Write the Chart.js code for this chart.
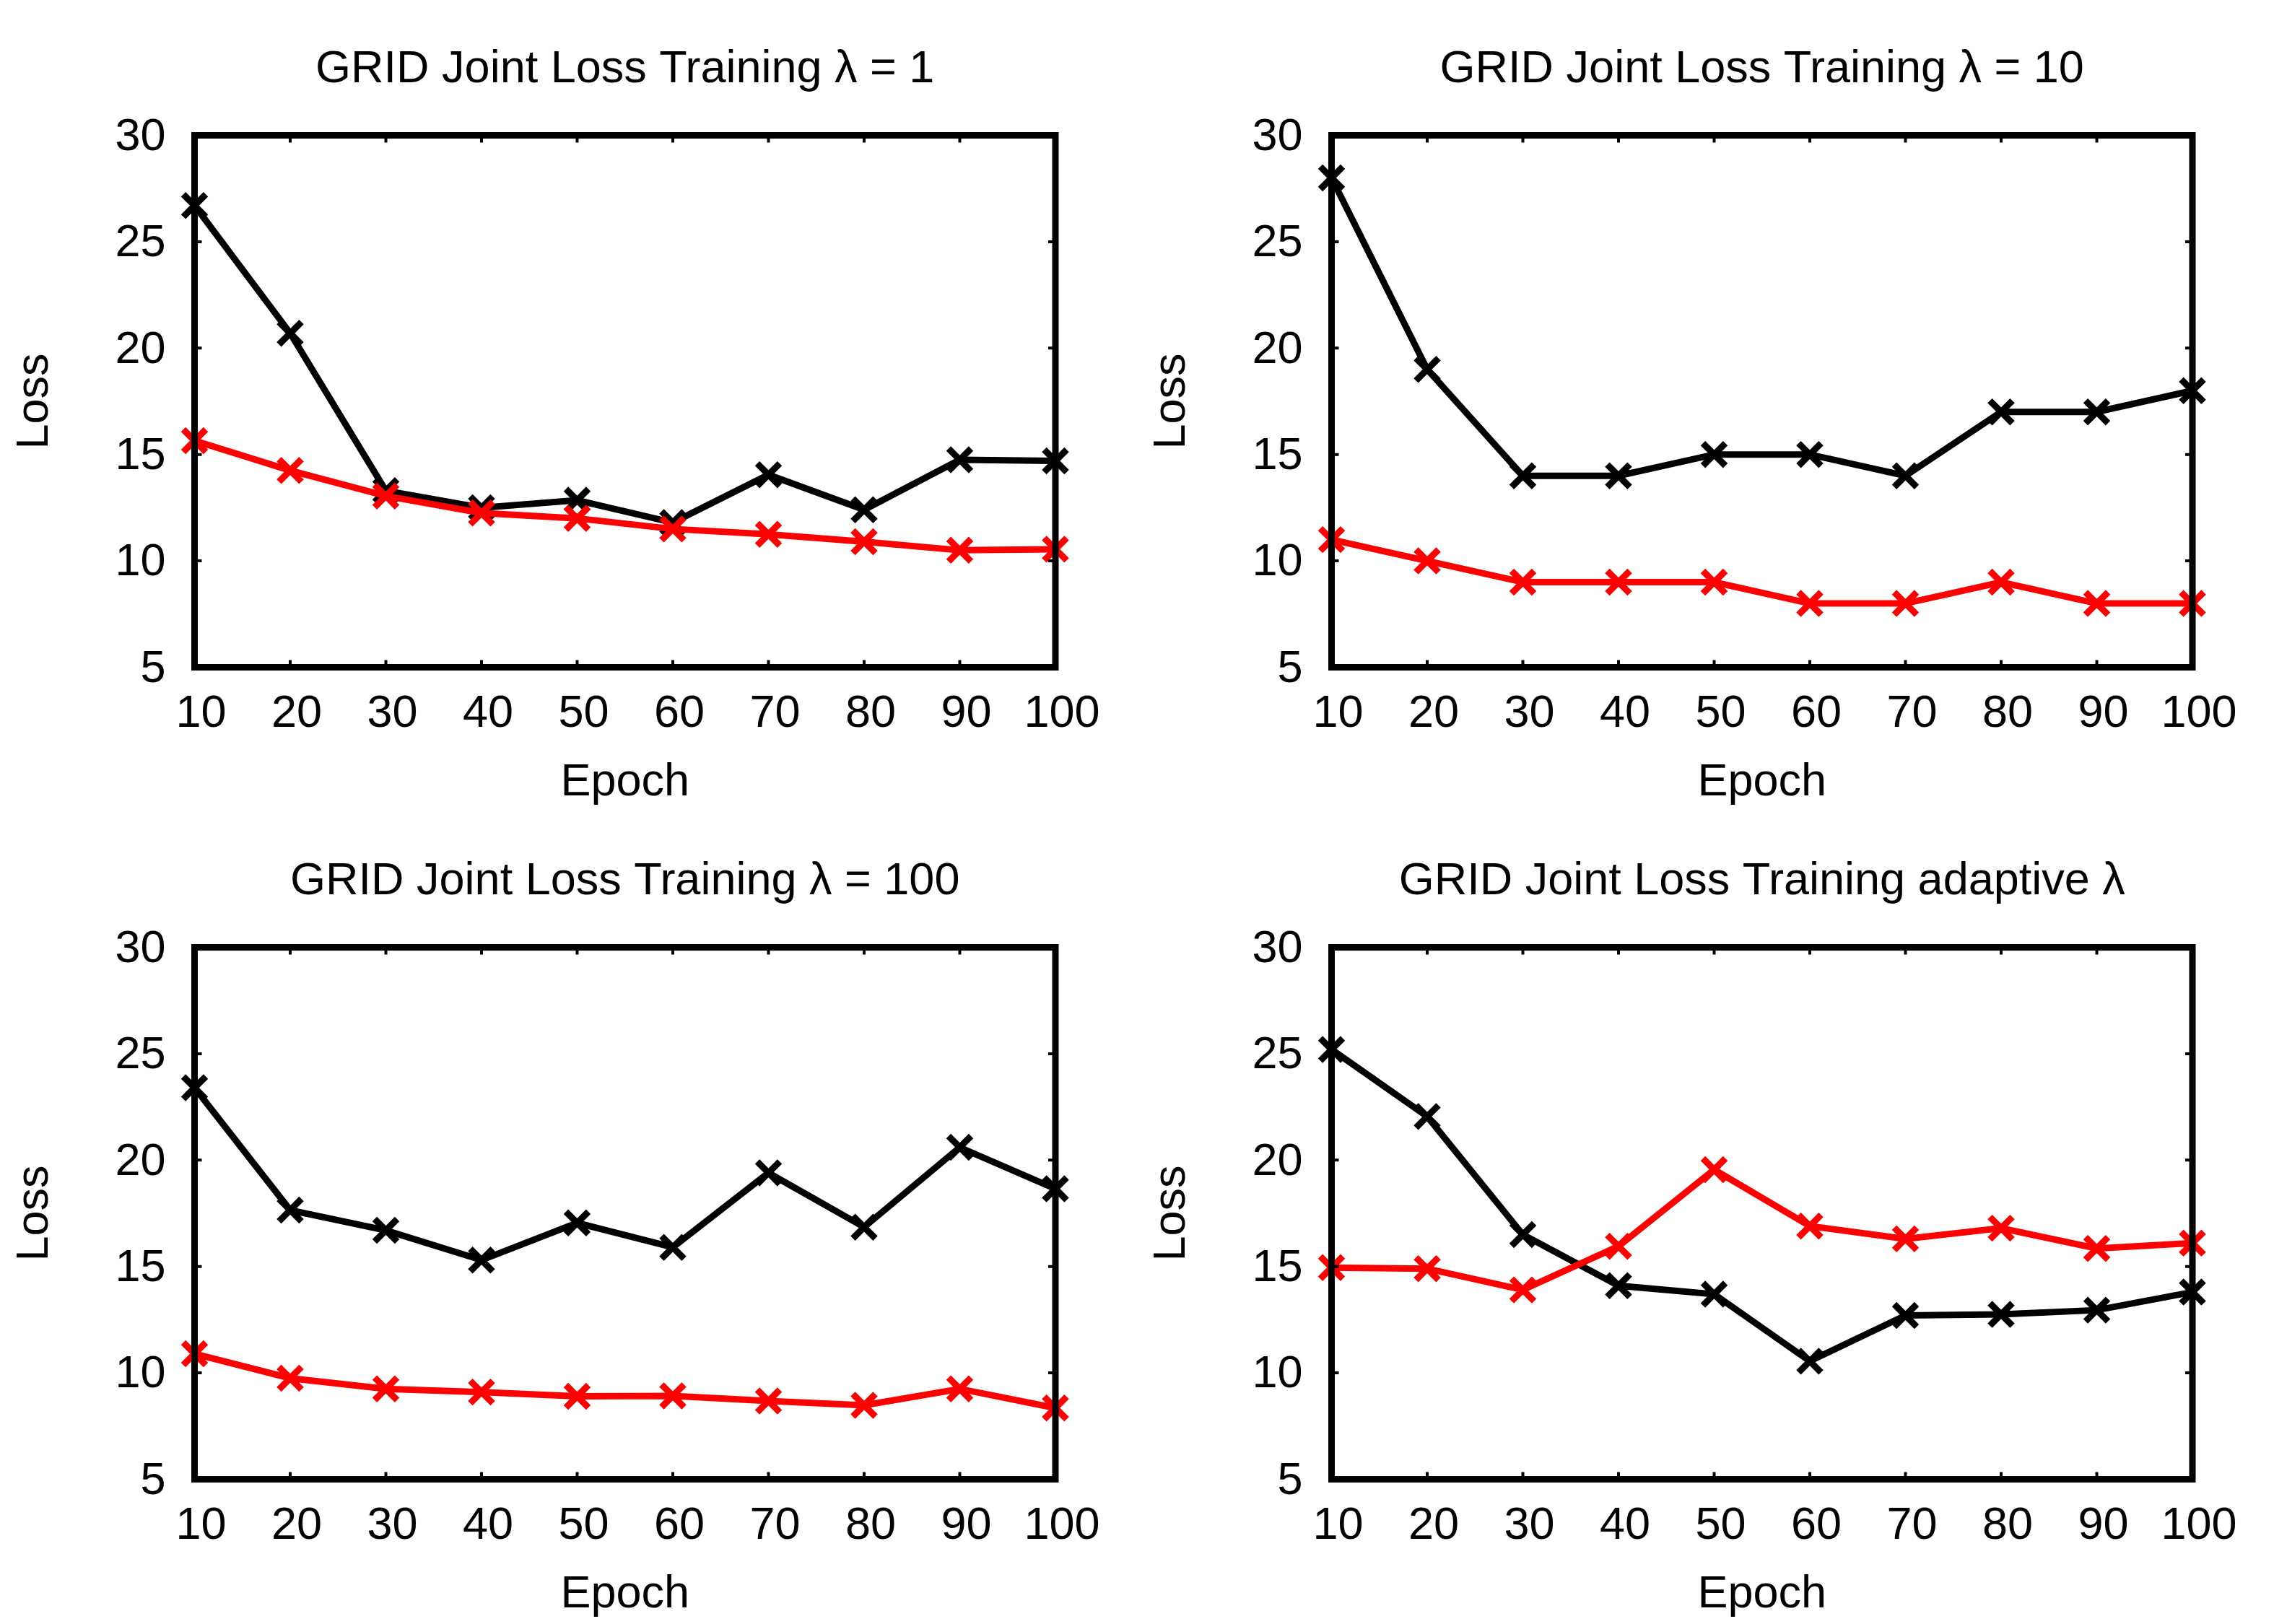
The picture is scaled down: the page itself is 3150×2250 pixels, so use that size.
<!DOCTYPE html>
<html><head><meta charset="utf-8">
<script src="https://cdn.jsdelivr.net/npm/chart.js@4.4.1/dist/chart.umd.min.js"></script>
<style>
html,body{margin:0;padding:0;background:#fff;}
#wrap{position:relative;width:3150px;height:2250px;background:#fff;}
.cell{position:absolute;width:1575px;height:1125px;}
canvas{display:block;}
</style>
</head><body><div id="wrap">
<div class="cell" style="left:0;top:0"><canvas id="c0" width="1575" height="1125"></canvas></div>
<div class="cell" style="left:1575px;top:0"><canvas id="c1" width="1575" height="1125"></canvas></div>
<div class="cell" style="left:0;top:1125px"><canvas id="c2" width="1575" height="1125"></canvas></div>
<div class="cell" style="left:1575px;top:1125px"><canvas id="c3" width="1575" height="1125"></canvas></div>
</div>
<script>
const epochs = [10, 20, 30, 40, 50, 60, 70, 80, 90, 100];
const yTicks = [5, 10, 15, 20, 25, 30];
const panelTitles = [
  'GRID Joint Loss Training λ = 1',
  'GRID Joint Loss Training λ = 10',
  'GRID Joint Loss Training λ = 100',
  'GRID Joint Loss Training adaptive λ'
];
const blackLambda1 = [26.7, 20.7, 13.3, 12.5, 12.85, 11.8, 14.05, 12.4, 14.75, 14.7];
const redLambda1 = [15.65, 14.25, 13.05, 12.25, 12.0, 11.5, 11.25, 10.9, 10.5, 10.55];
const blackLambda10 = [28, 19, 14, 14, 15, 15, 14, 17, 17, 18];
const redLambda10 = [11, 10, 9, 9, 9, 8, 8, 9, 8, 8];
const blackLambda100 = [23.4, 17.65, 16.7, 15.3, 17.05, 15.9, 19.4, 16.85, 20.6, 18.65];
const redLambda100 = [10.9, 9.75, 9.25, 9.1, 8.9, 8.92, 8.68, 8.48, 9.25, 8.35];
const blackAdaptive = [25.2, 22.05, 16.5, 14.1, 13.7, 10.55, 12.7, 12.75, 12.95, 13.8];
const redAdaptive = [14.95, 14.9, 13.9, 15.95, 19.55, 16.9, 16.3, 16.8, 15.85, 16.1];

const blackSeries = [blackLambda1, blackLambda10, blackLambda100, blackAdaptive];
const redSeries = [redLambda1, redLambda10, redLambda100, redAdaptive];

const FONT = "'Liberation Sans', Arial, Helvetica, sans-serif";

const framePlugin = {
  id: 'frame',
  afterDatasetsDraw(chart) {
    const {ctx, chartArea: a, scales} = chart;
    ctx.save();
    ctx.strokeStyle = '#000';
    ctx.lineWidth = 4;
    ctx.beginPath();
    scales.x.ticks.forEach(t => {
      const px = scales.x.getPixelForValue(t.value);
      ctx.moveTo(px, a.bottom); ctx.lineTo(px, a.bottom - 10);
      ctx.moveTo(px, a.top); ctx.lineTo(px, a.top + 10);
    });
    scales.y.ticks.forEach(t => {
      const py = scales.y.getPixelForValue(t.value);
      ctx.moveTo(a.left, py); ctx.lineTo(a.left + 10, py);
      ctx.moveTo(a.right, py); ctx.lineTo(a.right - 10, py);
    });
    ctx.stroke();
    ctx.lineWidth = 9;
    ctx.lineJoin = 'miter';
    ctx.strokeRect(a.left, a.top, a.right - a.left, a.bottom - a.top);
    ctx.restore();
  }
};

function makeChart(idx) {
  const ctx = document.getElementById('c' + idx);
  const toPts = arr => epochs.map((e, i) => ({x: e, y: arr[i]}));
  const ds = (label, arr, color, order) => ({
    label, data: toPts(arr), borderColor: color, backgroundColor: color,
    borderWidth: 9, pointStyle: 'crossRot', pointRadius: 22, pointBorderWidth: 9,
    pointBorderColor: color, pointBackgroundColor: color, pointHoverRadius: 22,
    tension: 0, clip: false, order
  });
  new Chart(ctx, {
    type: 'line',
    data: { datasets: [ds('black', blackSeries[idx], '#000000', 1), ds('red', redSeries[idx], '#ff0000', 0)] },
    options: {
      responsive: false, animation: false, devicePixelRatio: 1,
      layout: { padding: { left: 0, right: 113, top: 0, bottom: 0 } },
      plugins: { legend: { display: false }, tooltip: { enabled: false }, title: { display: false } },
      scales: {
        x: {
          type: 'linear', position: 'bottom', min: 10, max: 100,
          afterBuildTicks: s => { s.ticks = epochs.map(v => ({value: v})); },
          ticks: { color: '#000', font: { family: FONT, size: 63 }, padding: 27, labelOffset: 9, maxRotation: 0, autoSkip: false },
          grid: { display: false, drawTicks: false }, border: { display: false },
          title: { display: true, text: 'Epoch', color: '#000', font: { family: FONT, size: 63 }, padding: { top: 0, bottom: 3 } },
          afterFit: s => { s.height = 200.5; }
        },
        x2: {
          type: 'linear', position: 'top', min: 10, max: 100,
          ticks: { display: false }, grid: { display: false, drawTicks: false }, border: { display: false },
          title: { display: true, text: panelTitles[idx], color: '#000', font: { family: FONT, size: 63 }, padding: { top: 59, bottom: 0 } },
          afterFit: s => { s.height = 187.5; }
        },
        y: {
          type: 'linear', position: 'left', min: 5, max: 30,
          afterBuildTicks: s => { s.ticks = yTicks.map(v => ({value: v})); },
          ticks: { color: '#000', font: { family: FONT, size: 63 }, padding: 40, labelOffset: 3 },
          grid: { display: false, drawTicks: false }, border: { display: false },
          title: { display: true, text: 'Loss', color: '#000', font: { family: FONT, size: 63 }, padding: { top: 11, bottom: 0 } },
          afterFit: s => { s.width = 269.5; }
        }
      }
    },
    plugins: [framePlugin]
  });
}
[0, 1, 2, 3].forEach(makeChart);
</script>
</body></html>
